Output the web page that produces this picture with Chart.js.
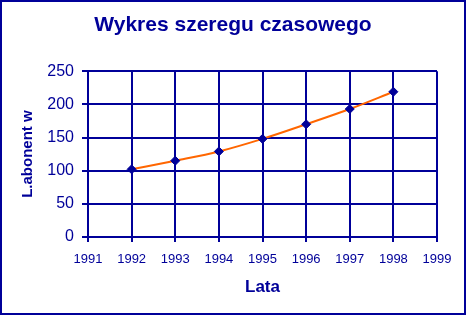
<!DOCTYPE html>
<html>
<head>
<meta charset="utf-8">
<script src="https://cdn.jsdelivr.net/npm/chart.js@4"></script>
<style>
  html, body { margin: 0; padding: 0; background: #ffffff; }
  #wrap { width: 466px; height: 315px; }
</style>
</head>
<body>
<div id="wrap"><canvas id="timeSeriesChart" width="466" height="315"></canvas></div>
<script>
// --- Data ---
const years = [1992, 1993, 1994, 1995, 1996, 1997, 1998];
const subscribers = [102, 115, 129, 148, 170, 193, 219];
const xTickRange = [1991, 1999];
const yTickRange = [0, 250];

const NAVY = '#000099';
const ORANGE = '#ff6600';

const points = years.map((y, i) => ({ x: y, y: subscribers[i] }));

// frame round the whole picture
const outerFrame = {
    id: 'outerFrame',
    afterDraw(chart) {
        const { ctx, width, height } = chart;
        ctx.save();
        ctx.strokeStyle = NAVY;
        ctx.lineWidth = 2;
        ctx.strokeRect(1, 1, width - 2, height - 2);
        ctx.restore();
    }
};

const ctx = document.getElementById('timeSeriesChart').getContext('2d');
new Chart(ctx, {
    type: 'scatter',
    data: {
        datasets: [{
            label: 'trend',
            data: points,
            showLine: true,
            borderColor: ORANGE,
            borderWidth: 2,
            cubicInterpolationMode: 'monotone',
            pointRadius: 0,
            order: 2
        }, {
            label: 'L.abonent w',
            data: points,
            showLine: false,
            pointStyle: 'rectRot',
            pointRadius: 4.5,
            backgroundColor: NAVY,
            borderColor: NAVY,
            order: 1
        }]
    },
    options: {
        responsive: false,
        animation: false,
        // symmetric side padding keeps the title centred on the picture
        layout: { padding: { left: 29, right: 29, top: 0, bottom: 0 } },
        plugins: {
            legend: { display: false },
            tooltip: { enabled: false },
            title: {
                display: true,
                text: 'Wykres szeregu czasowego',
                color: NAVY,
                font: { family: 'Arial, "Liberation Sans", sans-serif', size: 21, weight: 'bold', lineHeight: 1.2 },
                padding: { top: 13, bottom: 33 }
            }
        },
        scales: {
            x: {
                type: 'linear',
                min: xTickRange[0],
                max: xTickRange[1],
                ticks: {
                    stepSize: 1,
                    color: NAVY,
                    padding: 10,
                    font: { family: 'Arial, "Liberation Sans", sans-serif', size: 13 },
                    callback: v => String(v)
                },
                grid: { color: NAVY, lineWidth: 2, tickLength: 5, drawTicks: true },
                border: { color: NAVY, width: 2 },
                title: {
                    display: true,
                    text: 'Lata',
                    color: NAVY,
                    font: { family: 'Arial, "Liberation Sans", sans-serif', size: 17, weight: 'bold' },
                    padding: { top: 10, bottom: 17 }
                },
                afterFit(scale) { scale.height = 78; }
            },
            y: {
                min: yTickRange[0],
                max: yTickRange[1],
                ticks: {
                    stepSize: 50,
                    color: NAVY,
                    padding: 8,
                    font: { family: 'Arial, "Liberation Sans", sans-serif', size: 16 }
                },
                grid: { color: NAVY, lineWidth: 2, tickLength: 6, drawTicks: true },
                border: { color: NAVY, width: 2 },
                title: {
                    display: true,
                    text: 'L.abonent w',
                    color: NAVY,
                    font: { family: 'Arial, "Liberation Sans", sans-serif', size: 15, weight: 'bold' },
                    padding: { top: -10, bottom: 0 }
                },
                afterFit(scale) { scale.width = 59; }
            }
        }
    },
    plugins: [outerFrame]
});
</script>
</body>
</html>
